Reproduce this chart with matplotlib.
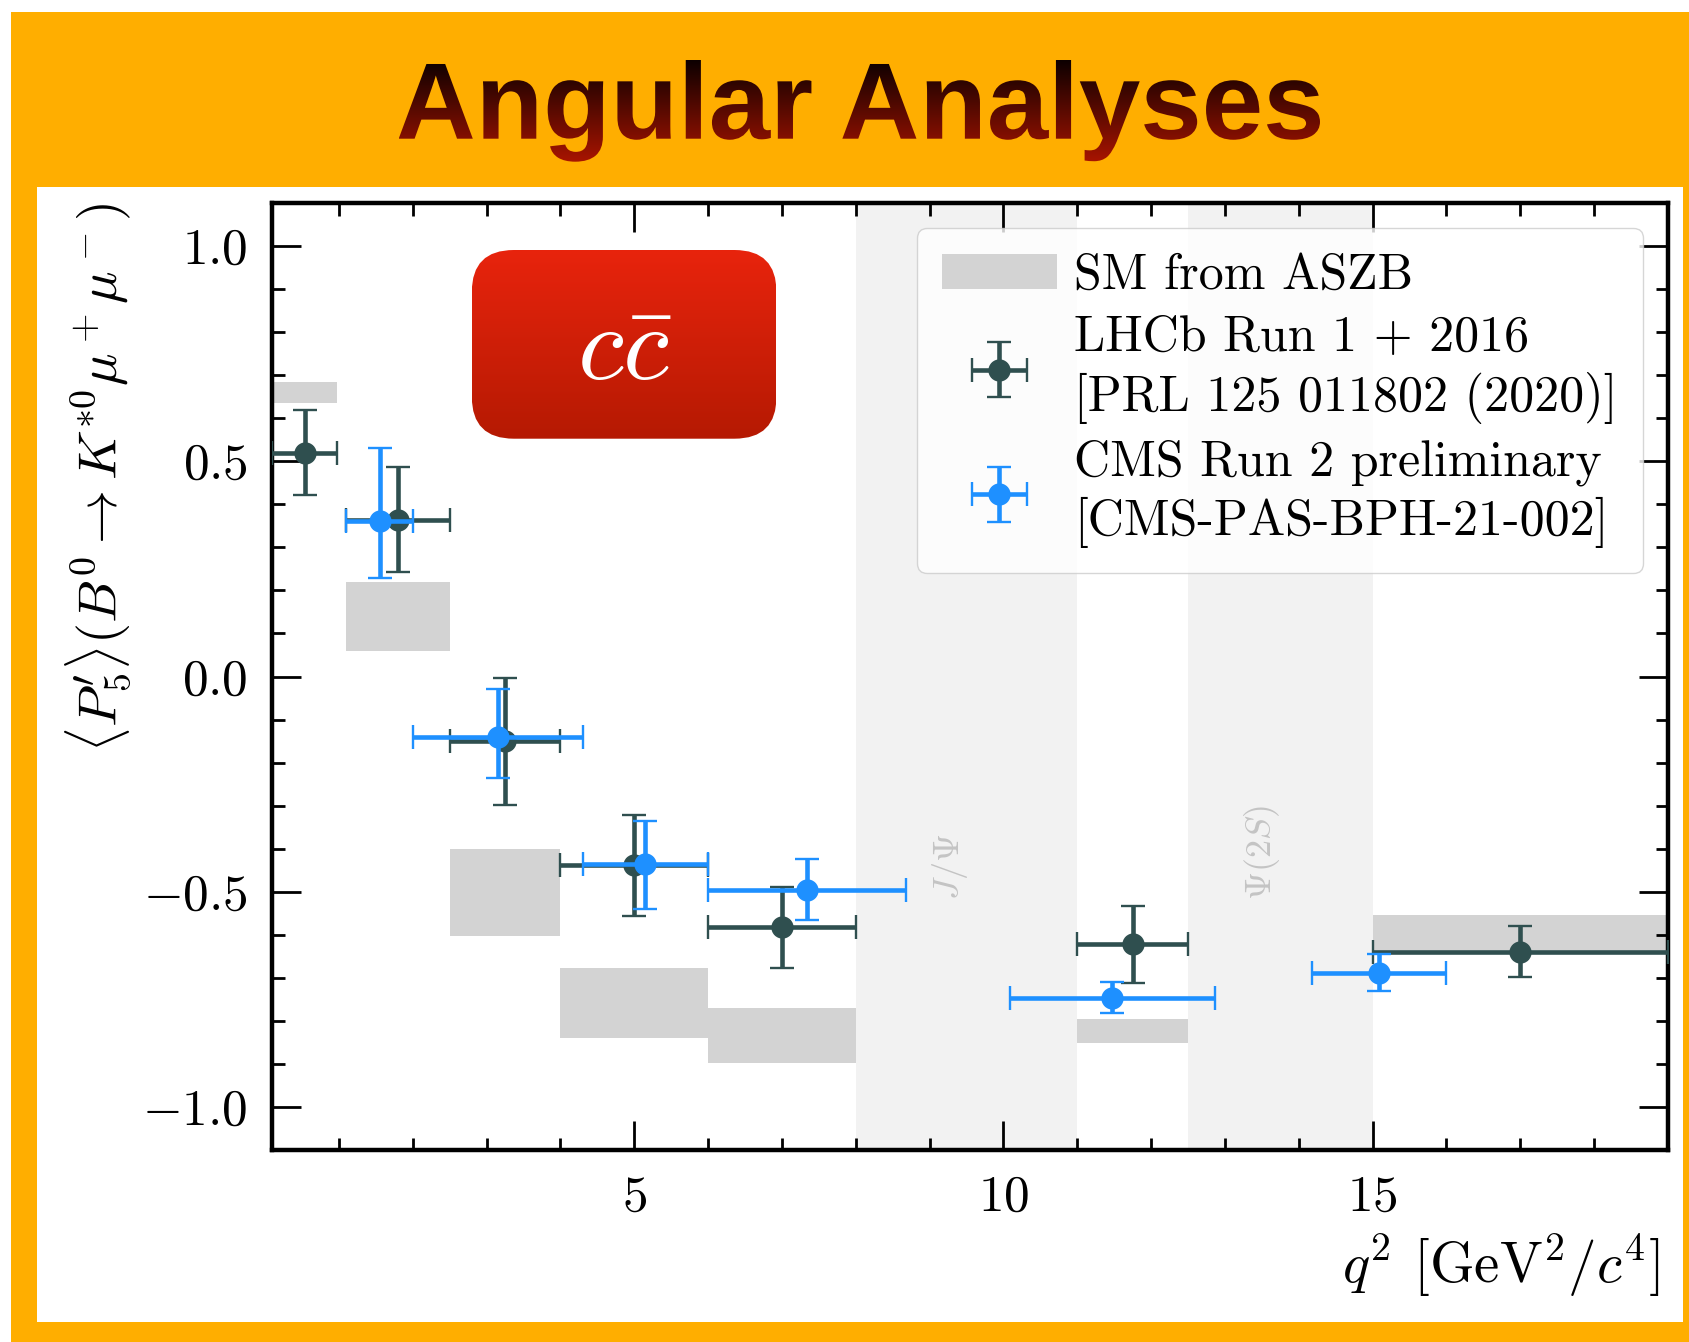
import matplotlib
matplotlib.use("Agg")
import matplotlib.pyplot as plt
import numpy as np
from matplotlib.patches import Rectangle, FancyBboxPatch, PathPatch
from matplotlib.textpath import TextPath
from matplotlib.font_manager import FontProperties
from matplotlib.transforms import Affine2D
from matplotlib.ticker import MultipleLocator, FormatStrFormatter
from matplotlib.legend_handler import HandlerErrorbar
from matplotlib.container import ErrorbarContainer

plt.rcParams['font.family'] = 'serif'
plt.rcParams['font.serif'] = ['cmr10']
plt.rcParams['mathtext.fontset'] = 'cm'
plt.rcParams['axes.formatter.use_mathtext'] = True

# SM prediction (ASZB) in the LHCb bins
sm_bin_lo = [0.1, 1.1, 2.5, 4.0, 6.0, 11.0, 15.0]
sm_bin_hi = [0.98, 2.5, 4.0, 6.0, 8.0, 12.5, 19.0]
sm_low = [0.635, 0.060, -0.603, -0.840, -0.898, -0.851, -0.640]
sm_high = [0.684, 0.219, -0.400, -0.678, -0.771, -0.795, -0.553]

# LHCb Run 1 + 2016
lhcb_bin_lo = [0.1, 1.1, 2.5, 4.0, 6.0, 11.0, 15.0]
lhcb_bin_hi = [0.98, 2.5, 4.0, 6.0, 8.0, 12.5, 19.0]
lhcb_val = [0.520, 0.363, -0.150, -0.439, -0.583, -0.622, -0.639]
lhcb_err_dn = [0.098, 0.120, 0.148, 0.117, 0.095, 0.090, 0.058]
lhcb_err_up = [0.098, 0.124, 0.146, 0.117, 0.095, 0.089, 0.059]

# CMS Run 2 preliminary
cms_bin_lo = [1.1, 2.0, 4.3, 6.0, 10.09, 14.18]
cms_bin_hi = [2.0, 4.3, 6.0, 8.68, 12.86, 16.0]
cms_val = [0.361, -0.140, -0.436, -0.496, -0.748, -0.689]
cms_err_dn = [0.133, 0.095, 0.104, 0.070, 0.034, 0.042]
cms_err_up = [0.169, 0.110, 0.100, 0.071, 0.038, 0.044]

# charmonium vetoes
veto_lo = [8.0, 12.5]
veto_hi = [11.0, 15.0]
veto_names = [r'$J/\Psi$', r'$\Psi(2S)$']
veto_text_x = [9.27, 13.5]

ORANGE = '#FFAE00'
W, H = 1690, 1342


def px_box(x0, y0, x1, y1):
    # pixel box (top-down) -> figure fraction rect
    return [x0 / W, 1 - y1 / H, (x1 - x0) / W, (y1 - y0) / H]


fig = plt.figure(figsize=(W / 100, H / 100), dpi=100)
fig.add_artist(Rectangle((11 / W, 0), 1 - 11 / W, 1 - 12 / H, transform=fig.transFigure,
                         facecolor=ORANGE, edgecolor='none', zorder=-3))
fig.add_artist(Rectangle((37 / W, 1 - 1322 / H), (1683 - 37) / W, (1322 - 187) / H,
                         transform=fig.transFigure, facecolor='white', edgecolor='none', zorder=-2))

# title with a vertical gradient fill
tax = fig.add_axes(px_box(398.7, 60, 1320, 161.7))
tax.axis('off')
tpath = TextPath((0, 0), 'Angular Analyses', size=100,
                 prop=FontProperties(family='Liberation Sans', weight='bold'))
ext = tpath.get_extents()
tpath = Affine2D().translate(-ext.x0, -ext.y0).scale(1 / ext.width, 1 / ext.height).transform_path(tpath)
tclip = PathPatch(tpath, transform=tax.transAxes, facecolor='none', edgecolor='none')
t = np.linspace(0, 1, 256)[:, None, None]
top_c = np.array([0.05, 0.0, 0.0])
bot_c = np.array([0.66, 0.08, 0.0])
grad = np.repeat((1 - t) * top_c + t * bot_c, 2, axis=1)
im = tax.imshow(grad, extent=(0, 1, 0, 1), aspect='auto', origin='upper')
tax.set_xlim(0, 1)
tax.set_ylim(0, 1)
im.set_clip_path(tclip)

# main plot
ax = fig.add_axes([272.5 / W, 1 - 1150 / H, (1668 - 272.5) / W, (1150 - 203) / H])

for lo, hi in zip(veto_lo, veto_hi):
    ax.axvspan(lo, hi, color='#f2f2f2', lw=0, zorder=0)
for xt, name in zip(veto_text_x, veto_names):
    ax.text(xt, -0.52, name, rotation=90, color='#c4c4c4', fontsize=26,
            ha='center', va='bottom')

ax.bar(sm_bin_lo, np.subtract(sm_high, sm_low), bottom=sm_low,
       width=np.subtract(sm_bin_hi, sm_bin_lo), align='edge', color='#d3d3d3',
       lw=0, label='SM from ASZB', zorder=1)

lhcb_x = (np.array(lhcb_bin_lo) + np.array(lhcb_bin_hi)) / 2
lhcb_xerr = (np.array(lhcb_bin_hi) - np.array(lhcb_bin_lo)) / 2
ax.errorbar(lhcb_x, lhcb_val, xerr=lhcb_xerr, yerr=[lhcb_err_dn, lhcb_err_up],
            fmt='o', color='darkslategray', ms=15, elinewidth=3.3, capsize=8.3,
            capthick=1.7, zorder=3, label='LHCb Run 1 + 2016\n[PRL 125 011802 (2020)]')

cms_x = (np.array(cms_bin_lo) + np.array(cms_bin_hi)) / 2
cms_xerr = (np.array(cms_bin_hi) - np.array(cms_bin_lo)) / 2
ax.errorbar(cms_x, cms_val, xerr=cms_xerr, yerr=[cms_err_dn, cms_err_up],
            fmt='o', color='dodgerblue', ms=15, elinewidth=3.3, capsize=8.3,
            capthick=1.7, zorder=4, label='CMS Run 2 preliminary\n[CMS-PAS-BPH-21-002]')

ax.set_xlim(0.1, 19.0)
ax.set_ylim(-1.1, 1.1)
ax.xaxis.set_major_locator(MultipleLocator(5))
ax.xaxis.set_minor_locator(MultipleLocator(1))
ax.yaxis.set_major_locator(MultipleLocator(0.5))
ax.yaxis.set_minor_locator(MultipleLocator(0.1))
ax.yaxis.set_major_formatter(FormatStrFormatter(r'$%.1f$'))
ax.tick_params(which='both', direction='in', top=True, right=True, width=2,
               labelsize=37, pad=18)
ax.tick_params(which='major', length=21)
ax.tick_params(which='minor', length=9)
for sp in ax.spines.values():
    sp.set_linewidth(3.2)

ax.set_xlabel(r'$q^2$ [GeV$^2/c^4$]', fontsize=41, loc='right', labelpad=8)
ax.xaxis.label.set_x(0.994)
ax.set_ylabel(r"$\langle P_5'\rangle(B^0\to K^{*0}\mu^+\mu^-)$", fontsize=39,
              loc='top', labelpad=7)

leg = ax.legend(loc='upper right', fontsize=36, handlelength=2.3, handletextpad=0.35,
                borderpad=0.5, labelspacing=0.32, framealpha=0.8, edgecolor='0.8',
                handler_map={ErrorbarContainer: HandlerErrorbar(xerr_size=0.55)})
for txt in leg.get_texts():
    txt.set_linespacing(1.28)

# c cbar badge with red gradient
bax = fig.add_axes(px_box(471.8, 250, 776.5, 438.7))
bax.axis('off')
bclip = FancyBboxPatch((471.8 / 100, (H - 438.7) / 100), 304.7 / 100, 188.7 / 100,
                       boxstyle='round,pad=0,rounding_size=0.42',
                       transform=fig.dpi_scale_trans, facecolor='none', edgecolor='none')
rtop = np.array([0.91, 0.14, 0.05])
rbot = np.array([0.71, 0.10, 0.01])
rgrad = np.repeat((1 - t) * rtop + t * rbot, 2, axis=1)
bim = bax.imshow(rgrad, extent=(0, 1, 0, 1), aspect='auto', origin='upper')
bax.set_xlim(0, 1)
bax.set_ylim(0, 1)
bim.set_clip_path(bclip)
bax.text(0.5, 0.31, r'$c\bar{c}$', color='white', fontsize=76,
         ha='center', va='baseline', transform=bax.transAxes)

fig.savefig('out.png', dpi=100)
